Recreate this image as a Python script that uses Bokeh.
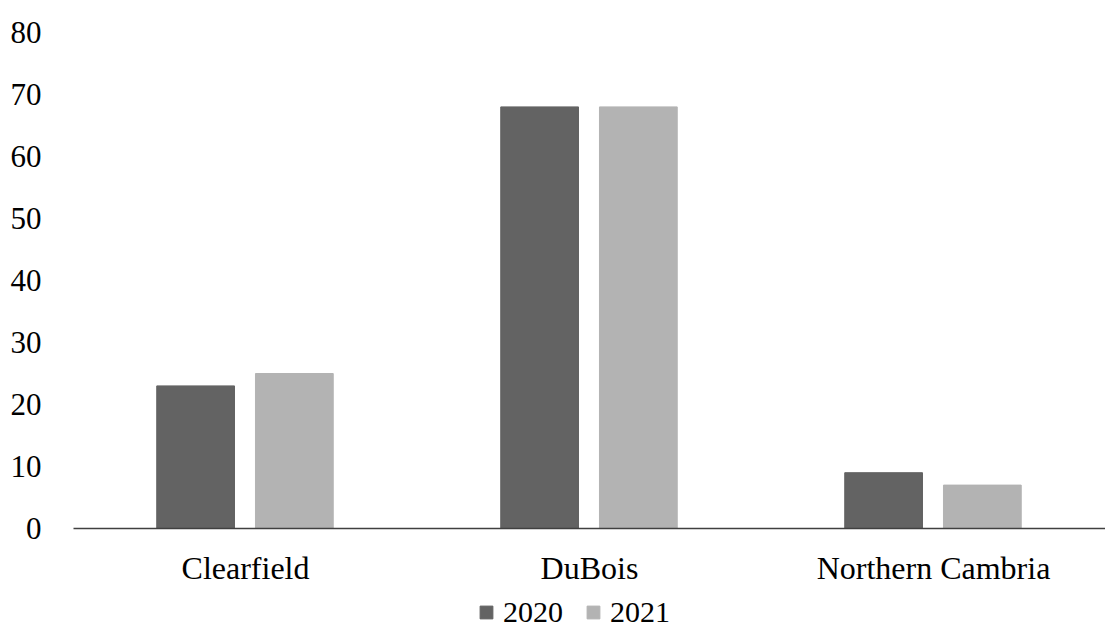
from bokeh.plotting import figure
from bokeh.layouts import column
from bokeh.models import ColumnDataSource, FactorRange, Legend, LegendItem, SingleIntervalTicker
from bokeh.transform import dodge
from bokeh.embed import file_html
from bokeh.resources import INLINE

categories = ["Clearfield", "DuBois", "Northern Cambria"]
years = ["2020", "2021"]
values_2020 = [23, 68, 9]
values_2021 = [25, 68, 7]
colors = ["#636363", "#b3b3b3"]

src = ColumnDataSource(dict(cat=categories, v2020=values_2020, v2021=values_2021))

p = figure(width=1105, height=590, x_range=FactorRange(*categories, range_padding=0),
           y_range=(0, 80), output_backend="svg", toolbar_location=None,
           min_border_left=73, min_border_right=0, min_border_top=32, min_border_bottom=62)
p.outline_line_color = None
p.grid.grid_line_color = None

p.vbar(x=dodge("cat", -0.145, range=p.x_range), top="v2020", width=0.226,
       source=src, color=colors[0])
p.vbar(x=dodge("cat", 0.142, range=p.x_range), top="v2021", width=0.226,
       source=src, color=colors[1])

font = "Liberation Serif"
p.yaxis.ticker = SingleIntervalTicker(interval=10)
p.yaxis.axis_line_color = None
p.yaxis.major_tick_line_color = None
p.yaxis.minor_tick_line_color = None
p.yaxis.major_label_text_font = font
p.yaxis.major_label_text_font_size = "31px"
p.yaxis.major_label_text_color = "#000000"
p.yaxis.major_label_standoff = 26

p.xaxis.axis_line_color = "#404040"
p.xaxis.axis_line_width = 1.5
p.xaxis.major_tick_line_color = None
p.xaxis.major_tick_out = 0
p.xaxis.major_tick_in = 0
p.xaxis.major_label_text_font = font
p.xaxis.major_label_text_font_size = "32px"
p.xaxis.major_label_text_color = "#000000"
p.xaxis.major_label_standoff = 21

# legend strip below the chart (its keys sit outside the visible range)
lg = figure(width=1105, height=46, output_backend="svg", toolbar_location=None,
            x_axis_location=None, y_axis_location=None, min_border=0,
            x_range=(0, 1), y_range=(0, 1))
lg.outline_line_color = None
lg.grid.grid_line_color = None
key_src = ColumnDataSource(dict(x=[-5], top=[-5]))
k1 = lg.vbar(x="x", top="top", width=1, source=key_src, color=colors[0])
k2 = lg.vbar(x="x", top="top", width=1, source=key_src, color=colors[1])

legend = Legend(items=[LegendItem(label=years[0], renderers=[k1]),
                       LegendItem(label=years[1], renderers=[k2])],
                orientation="horizontal", location=(405, 7),
                label_text_font=font, label_text_font_size="30px", label_text_color="#000000",
                glyph_width=16, glyph_height=16, label_standoff=9, spacing=22,
                border_line_color=None, background_fill_alpha=0, padding=0, margin=0)
lg.add_layout(legend)

layout = column(p, lg, spacing=0)
open("out.html", "w").write(file_html(layout, INLINE))
